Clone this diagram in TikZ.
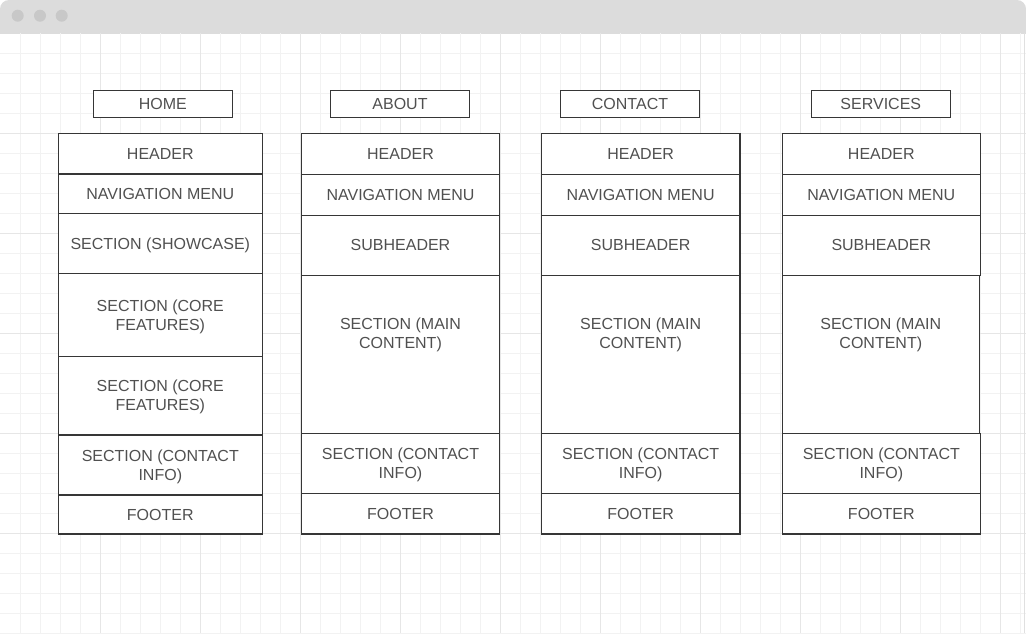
\documentclass[tikz,border=0pt]{standalone}
\usepackage{fontspec}
\setmainfont{Liberation Sans}
\definecolor{barfill}{HTML}{DCDCDC}
\definecolor{dotfill}{HTML}{C8C8C8}
\definecolor{gridminor}{HTML}{F2F2F2}
\definecolor{gridmajor}{HTML}{E6E6E6}
\definecolor{edge}{HTML}{E0E0E0}
\definecolor{boxline}{HTML}{363636}
\definecolor{boxtext}{HTML}{505050}

% \wfbox[extra style]{name}{x1}{y1}{x2}{y2}{text}: a wireframe block by its corners
\newcommand\wfbox[7][]{%
  \node[rowbox,#1,anchor=north west,
        minimum width={#5-#3},minimum height={#6-#4}] (#2) at (#3,#4) {#7};}

\begin{document}
\begin{tikzpicture}[x=1pt,y=-1pt,
    boxfont/.style={text=boxtext,align=center,text depth=0pt,font=\fontsize{16}{19}\selectfont},
    rowbox/.style={draw=boxline,line width=1.3pt,fill=white,inner sep=0pt,outer sep=0pt,boxfont},
    maintext/.style={label={[boxfont,yshift=20.8pt]center:SECTION (MAIN\\CONTENT)}},
    minorline/.style={draw=gridminor,line width=1pt},
    majorline/.style={draw=gridmajor,line width=1pt}]
  \useasboundingbox (0,0) rectangle (1026,633);
  \fill[white] (0,0) rectangle (1026,633);

  % window title bar with rounded top corners
  \begin{scope}
    \clip (0,0) rectangle (1026,33);
    \fill[barfill,rounded corners=9pt] (0,0) rectangle (1026,60);
  \end{scope}
  \foreach \cx in {17.7,40,61.7}
    \fill[dotfill] (\cx,15.7) circle (6);

  % background grid
  \foreach \gx in {20,40,...,1020}
    \draw[minorline] (\gx,33) -- (\gx,633);
  \foreach \gy in {53,73,...,633}
    \draw[minorline] (0,\gy) -- (1026,\gy);
  \foreach \gx in {100,200,...,1000}
    \draw[majorline] (\gx,33) -- (\gx,633);
  \foreach \gy in {133,233,...,533}
    \draw[majorline] (0,\gy) -- (1026,\gy);
  \draw[edge,line width=1.5pt] (1024.5,33) -- (1024.5,633);

  % page titles
  \wfbox{tHome}{93.3}{90.3}{232.3}{117.3}{HOME}
  \wfbox{tAbout}{330.3}{90.3}{469.7}{117.3}{ABOUT}
  \wfbox{tContact}{560.3}{90.3}{699.7}{117.3}{CONTACT}
  \wfbox{tServices}{811.3}{90.3}{950.3}{117.3}{SERVICES}

  % HOME
  \wfbox{hHead}{58.3}{133.3}{262.3}{174}{HEADER}
  \wfbox{hNav}{58.3}{174}{262.3}{213.3}{NAVIGATION MENU}
  \wfbox{hShow}{58.3}{213.3}{262.3}{273.3}{SECTION (SHOWCASE)}
  \wfbox{hCoreA}{58.3}{273.3}{262.3}{356.3}{SECTION (CORE\\FEATURES)}
  \wfbox{hCoreB}{58.3}{356.3}{262.3}{435}{SECTION (CORE\\FEATURES)}
  \wfbox{hInfo}{58.3}{435}{262.3}{495}{SECTION (CONTACT\\INFO)}
  \wfbox{hFoot}{58.3}{495}{262.3}{534}{FOOTER}

  % ABOUT
  \wfbox{aHead}{301.3}{133.3}{499.7}{174.3}{HEADER}
  \wfbox{aNav}{301.3}{174.3}{499.7}{215.3}{NAVIGATION MENU}
  \wfbox{aSub}{301.3}{215.3}{499.7}{275.3}{SUBHEADER}
  \wfbox[maintext]{aMain}{301.3}{275.3}{499.7}{433.3}{}
  \wfbox{aInfo}{301.3}{433.3}{499.7}{493.3}{SECTION (CONTACT\\INFO)}
  \wfbox{aFoot}{301.3}{493.3}{499.7}{534}{FOOTER}

  % CONTACT
  \wfbox{cHead}{541.3}{133.3}{740}{174.3}{HEADER}
  \wfbox{cNav}{541.3}{174.3}{740}{215.3}{NAVIGATION MENU}
  \wfbox{cSub}{541.3}{215.3}{740}{275.3}{SUBHEADER}
  \wfbox[maintext]{cMain}{541.3}{275.3}{740}{433.3}{}
  \wfbox{cInfo}{541.3}{433.3}{740}{493.3}{SECTION (CONTACT\\INFO)}
  \wfbox{cFoot}{541.3}{493.3}{740}{534}{FOOTER}

  % SERVICES
  \wfbox{sHead}{782.3}{133.3}{980.3}{174.3}{HEADER}
  \wfbox{sNav}{782.3}{174.3}{980.3}{215.3}{NAVIGATION MENU}
  \wfbox{sSub}{782.3}{215.3}{980.3}{275.3}{SUBHEADER}
  \wfbox[maintext]{sMain}{782.3}{275.3}{979.3}{433.3}{}
  \wfbox{sInfo}{782.3}{433.3}{980.3}{493.3}{SECTION (CONTACT\\INFO)}
  \wfbox{sFoot}{782.3}{493.3}{980.3}{534}{FOOTER}
\end{tikzpicture}
\end{document}
